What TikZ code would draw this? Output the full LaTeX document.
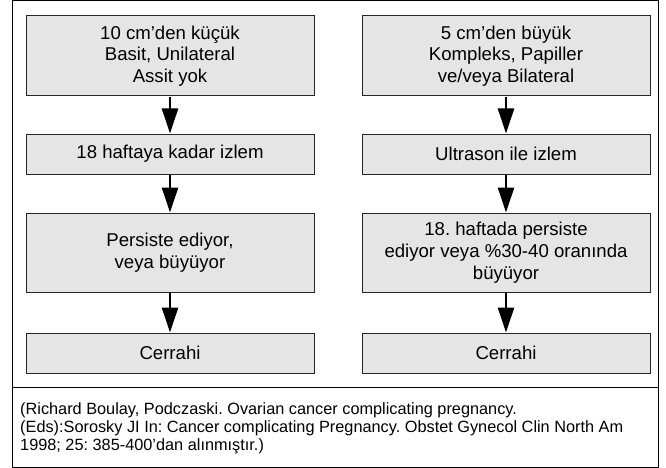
\documentclass[tikz,border=0pt]{standalone}
\usepackage{fontspec}
\setmainfont{Liberation Sans}
\usetikzlibrary{arrows.meta}
\begin{document}
\frenchspacing
\begin{tikzpicture}[x=1pt,y=-1pt,
  stepbox/.style={draw=black!85,line width=1pt,fill=black!10,align=center,inner sep=0pt,
     minimum width=288pt,font=\fontsize{18.6}{21.7}\selectfont},
  flow/.style={line width=2.5pt,-{Triangle[length=25pt,width=16pt]},shorten <=0.5pt}]
\useasboundingbox (0,0) rectangle (666,468);
\draw[line width=1pt] (12,1) rectangle (658,467);
\coordinate (dl) at (12,387);
\coordinate (dr) at (658,387);
\draw[line width=1pt] (dl) -- (dr);
% left column
\node[stepbox,minimum height=80pt] (a1) at (170,56) {10 cm’den küçük\\Basit, Unilateral\\Assit yok};
\node[stepbox,minimum height=40pt] (a2) at (170,154) {18 haftaya kadar izlem};
\node[stepbox,minimum height=79pt] (a3) at (170,252.5) {Persiste ediyor,\\veya büyüyor};
\node[stepbox,minimum height=40pt] (a4) at (170,353) {Cerrahi};
% right column
\node[stepbox,minimum height=80pt] (b1) at (506,56) {5 cm’den büyük\\Kompleks, Papiller\\ve/veya Bilateral};
\node[stepbox,minimum height=40pt] (b2) at (506,154) {Ultrason ile izlem};
\node[stepbox,minimum height=79pt] (b3) at (506,252.5) {18. haftada persiste\\ediyor veya \%30-40 oranında\\büyüyor};
\node[stepbox,minimum height=40pt] (b4) at (506,353) {Cerrahi};
\draw[flow] (a1) -- (a2);
\draw[flow] (a2) -- (a3);
\draw[flow] (a3) -- (a4);
\draw[flow] (b1) -- (b2);
\draw[flow] (b2) -- (b3);
\draw[flow] (b3) -- (b4);
\node[anchor=west,align=left,inner sep=0pt,font=\fontsize{16.3}{18}\selectfont] (src) at (20,428)
 {(Richard Boulay, Podczaski. Ovarian cancer complicating pregnancy.\\(Eds):Sorosky JI In: Cancer complicating Pregnancy. Obstet Gynecol Clin North Am\\1998; 25: 385-400’dan alınmıştır.)};
\end{tikzpicture}
\end{document}
